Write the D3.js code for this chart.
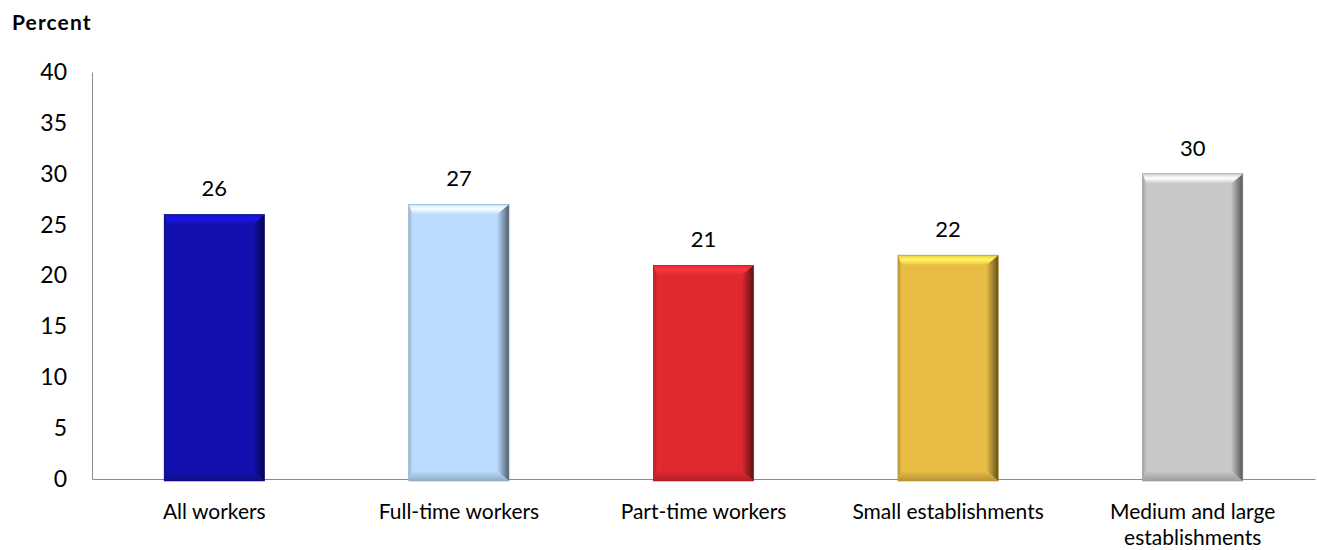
<!DOCTYPE html>
<html>
<head>
<meta charset="utf-8">
<script src="https://cdn.jsdelivr.net/npm/d3@7"></script>
<style>
  body { margin: 0; background: #fff; }
  text { font-family: Lato, "Open Sans", sans-serif; fill: #000; }
</style>
</head>
<body>
<svg id="chart" width="1317" height="550"></svg>
<script>
const categories = ["All workers", "Full-time workers", "Part-time workers", "Small establishments", "Medium and large establishments"];
const values = [26, 27, 21, 22, 30];
const barColors = ["#1410b0", "#bbdcff", "#e02830", "#e9bd45", "#c8c8c8"];
const yTicks = [0, 5, 10, 15, 20, 25, 30, 35, 40];

const svg = d3.select("#chart"),
      width = +svg.attr("width"),
      height = +svg.attr("height"),
      margin = {top: 72, right: 2, bottom: 71, left: 92};

const x = d3.scaleBand().domain(categories).range([margin.left, width - margin.right]).paddingInner(0.59).paddingOuter(0.295);
const y = d3.scaleLinear().domain([0, 40]).range([height - margin.bottom, margin.top]);

// y axis: line only, labels on left
const yAxis = svg.append("g")
    .attr("transform", `translate(${margin.left},0)`)
    .call(d3.axisLeft(y).tickValues(yTicks).tickSize(0).tickPadding(25));
yAxis.select(".domain").attr("stroke", "#8c8c8c");
yAxis.selectAll("text").style("font-size", "23px");

// x axis (drawn under the bars)
const xAxis = svg.append("g")
    .attr("transform", `translate(0,${y(0)})`)
    .call(d3.axisBottom(x).tickSize(0).tickFormat(""));
xAxis.select(".domain").attr("stroke", "#8c8c8c");

svg.append("text")
    .attr("x", 12)
    .attr("y", 30)
    .style("font-size", "21px")
    .style("font-weight", "bold")
    .style("letter-spacing", "1.1px")
    .text("Percent");

// bevel helper
const defs = svg.append("defs");
function shade(c, k) {
  const col = d3.color(c);
  return k > 0 ? col.brighter(k).formatHex() : col.darker(-k).formatHex();
}

const bevel = 10;
const bars = svg.append("g");
values.forEach((v, i) => {
  const c = barColors[i];
  const x0 = x(categories[i]), bw = x.bandwidth();
  const x1 = x0 + bw, y0 = y(v), y1 = y(0) + 2;

  const gr = defs.append("linearGradient").attr("id", "r" + i).attr("x1", 0).attr("x2", 1);
  gr.append("stop").attr("offset", 0).attr("stop-color", c);
  gr.append("stop").attr("offset", 1).attr("stop-color", shade(c, -2.4));
  const gl = defs.append("linearGradient").attr("id", "l" + i).attr("x1", 0).attr("x2", 1);
  gl.append("stop").attr("offset", 0).attr("stop-color", shade(c, -0.6));
  gl.append("stop").attr("offset", 1).attr("stop-color", c);
  const gt = defs.append("linearGradient").attr("id", "t" + i).attr("x1", 0).attr("x2", 0).attr("y1", 0).attr("y2", 1);
  gt.append("stop").attr("offset", 0).attr("stop-color", shade(c, 0.1));
  gt.append("stop").attr("offset", 0.45).attr("stop-color", shade(c, 0.8));
  gt.append("stop").attr("offset", 1).attr("stop-color", c);
  const gb = defs.append("linearGradient").attr("id", "b" + i).attr("x1", 0).attr("x2", 0).attr("y1", 0).attr("y2", 1);
  gb.append("stop").attr("offset", 0).attr("stop-color", c);
  gb.append("stop").attr("offset", 1).attr("stop-color", shade(c, -0.7));

  const g = bars.append("g");
  g.append("rect").attr("x", x0).attr("y", y0).attr("width", bw).attr("height", y1 - y0).attr("fill", c);
  // left side
  g.append("polygon").attr("points", [[x0, y0], [x0 + 4, y0 + bevel], [x0 + 4, y1 - bevel], [x0, y1]].join(" "))
    .attr("fill", `url(#l${i})`);
  // right side
  g.append("polygon").attr("points", [[x1, y0], [x1 - 12, y0 + bevel], [x1 - 12, y1 - bevel], [x1, y1]].join(" "))
    .attr("fill", `url(#r${i})`);
  // top
  g.append("polygon").attr("points", [[x0, y0], [x1, y0], [x1 - 12, y0 + bevel], [x0 + 4, y0 + bevel]].join(" "))
    .attr("fill", `url(#t${i})`);
  // bottom
  g.append("polygon").attr("points", [[x0, y1], [x1, y1], [x1 - 12, y1 - bevel], [x0 + 4, y1 - bevel]].join(" "))
    .attr("fill", `url(#b${i})`);
  g.append("rect").attr("x", x0).attr("y", y0).attr("width", bw).attr("height", y1 - y0)
    .attr("fill", "none").attr("stroke", shade(c, -0.8)).attr("stroke-width", 0.6);

  svg.append("text")
    .attr("x", x0 + bw / 2)
    .attr("y", y0 - 18)
    .attr("text-anchor", "middle")
    .style("font-size", "22px")
    .text(v);
});

const labelLines = {"Medium and large establishments": ["Medium and large", "establishments"]};
categories.forEach(cat => {
  const lines = labelLines[cat] || [cat];
  const cx = x(cat) + x.bandwidth() / 2;
  const t = svg.append("text")
    .attr("x", cx)
    .attr("y", y(0) + 40)
    .attr("text-anchor", "middle")
    .style("font-size", "21px");
  lines.forEach((l, j) => t.append("tspan").attr("x", cx).attr("dy", j ? 26 : 0).text(l));
});
</script>
</body>
</html>
